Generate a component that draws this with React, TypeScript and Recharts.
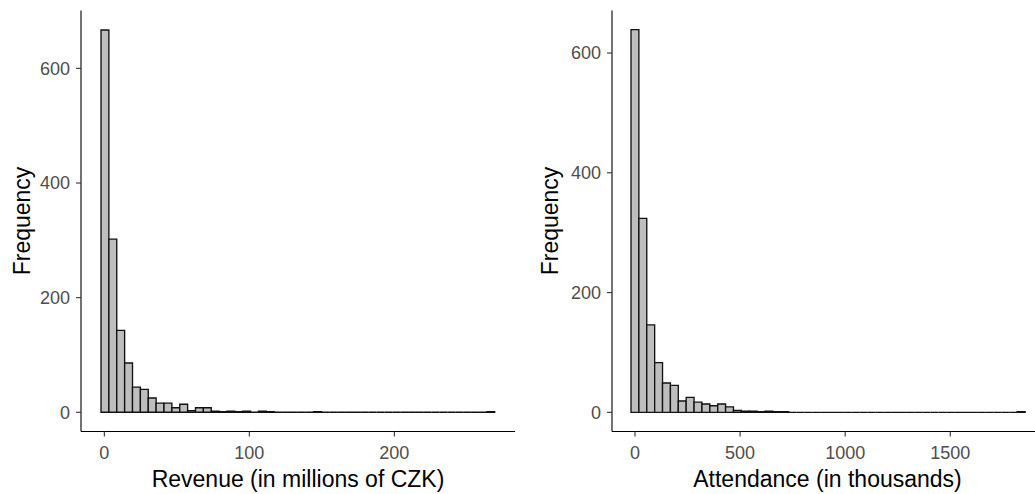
import React from 'react';
import { BarChart, Bar, XAxis, YAxis, Label } from 'recharts';

// ---- Data ----
const revenueBinStart = -2.3; // left edge of the first bin (millions CZK)
const revenueBinWidth = 5.43;
const revenueCounts = [
  667, 302, 143, 86, 44, 40, 25, 16, 16, 8,
  14, 3, 8, 8, 2, 1, 2, 1, 2, 0,
  2, 1, 0, 0, 0, 0, 0, 1, 0, 0,
  0, 0, 0, 0, 0, 0, 0, 0, 0, 0,
  0, 0, 0, 0, 0, 0, 0, 0, 0, 1,
];
const revenueTicks = [0, 100, 200];

const attendanceBinStart = -19; // thousands
const attendanceBinWidth = 37.5;
const attendanceCounts = [
  639, 324, 146, 83, 49, 45, 19, 25, 17, 14,
  11, 14, 9, 3, 2, 2, 1, 2, 1, 1,
  0, 0, 0, 0, 0, 0, 0, 0, 0, 0,
  0, 0, 0, 0, 0, 0, 0, 0, 0, 0,
  0, 0, 0, 0, 0, 0, 0, 0, 0, 1,
];
const attendanceTicks = [0, 500, 1000, 1500];

const frequencyTicks = [0, 200, 400, 600];

const buildBins = (start: number, width: number, counts: number[]) =>
  counts.map((count, i) => ({ x: start + width * (i + 0.5), count }));

const revenueData = buildBins(revenueBinStart, revenueBinWidth, revenueCounts);
const attendanceData = buildBins(attendanceBinStart, attendanceBinWidth, attendanceCounts);

const FONT = '"Liberation Sans", Arial, sans-serif';
const TICK_COLOR = '#4D4D4D';

type PanelProps = {
  data: { x: number; count: number }[];
  binWidth: number;
  xDomain: [number, number];
  yDomain: [number, number];
  xTicks: number[];
  xTitle: string;
  width: number;
  height: number;
  yAxisWidth: number;
  margin: { top: number; right: number; bottom: number; left: number };
  yTitleOffset: number;
  xTitleDx: number;
};

const Panel = (p: PanelProps) => {
  const plotW = p.width - p.margin.left - p.margin.right - p.yAxisWidth;
  const binPx = (p.binWidth * plotW) / (p.xDomain[1] - p.xDomain[0]);
  const shape = (props: any) => {
    const { x, y, height } = props;
    const top = y;
    const bottom = y + height;
    return (
      <path
        d={`M${x},${bottom}V${top}H${x + binPx}V${bottom}Z`}
        fill="#BEBEBE"
        stroke="#111111"
        strokeWidth={1.35}
      />
    );
  };
  return (
    <BarChart
      width={p.width}
      height={p.height}
      data={p.data}
      margin={p.margin}
      barCategoryGap={0}
      barGap={0}
    >
      <XAxis
        type="number"
        dataKey="x"
        domain={p.xDomain}
        ticks={p.xTicks}
        allowDataOverflow
        height={p.height - p.margin.top - p.margin.bottom - 421}
        stroke="#000000"
        strokeWidth={1.1}
        tickSize={5}
        tickMargin={9.5}
        tickLine={{ stroke: '#333333', strokeWidth: 1.1 }}
        tick={{ fill: TICK_COLOR, fontSize: 18, fontFamily: FONT }}
        interval={0}
      >
        <Label
          value={p.xTitle}
          position="insideBottom"
          offset={7.3}
          dx={p.xTitleDx}
          fill="#000000"
          fontSize={23}
          fontFamily={FONT}
        />
      </XAxis>
      <YAxis
        type="number"
        domain={p.yDomain}
        ticks={frequencyTicks}
        allowDataOverflow
        width={p.yAxisWidth}
        stroke="#000000"
        strokeWidth={1.1}
        tickSize={5}
        tickMargin={6}
        tickLine={{ stroke: '#333333', strokeWidth: 1.1 }}
        tick={{ fill: TICK_COLOR, fontSize: 18, fontFamily: FONT }}
        interval={0}
      >
        <Label
          value="Frequency"
          angle={-90}
          position="insideLeft"
          offset={p.yTitleOffset}
          style={{ textAnchor: 'middle' }}
          fill="#000000"
          fontSize={23}
          fontFamily={FONT}
        />
      </YAxis>
      <Bar dataKey="count" isAnimationActive={false} shape={shape} />
    </BarChart>
  );
};

export default function App() {
  return (
    <div
      style={{
        position: 'absolute',
        left: 0,
        top: 0,
        width: 1035,
        height: 494,
        background: '#FFFFFF',
        overflow: 'hidden',
      }}
    >
      <div style={{ position: 'absolute', left: 0, top: 0 }}>
        <Panel
          data={revenueData}
          binWidth={revenueBinWidth}
          xDomain={[-16.1, 283.2]}
          yDomain={[-33.5, 701]}
          xTicks={revenueTicks}
          xTitle="Revenue (in millions of CZK)"
          width={517}
          height={494}
          yAxisWidth={81}
          margin={{ top: 10.5, right: 2, bottom: 0, left: 0 }}
          yTitleOffset={22}
          xTitleDx={0}
        />
      </div>
      <div style={{ position: 'absolute', left: 517, top: 0 }}>
        <Panel
          data={attendanceData}
          binWidth={attendanceBinWidth}
          xDomain={[-109.4, 1903]}
          yDomain={[-32, 671]}
          xTicks={attendanceTicks}
          xTitle="Attendance (in thousands)"
          width={518}
          height={494}
          yAxisWidth={95}
          margin={{ top: 10.5, right: 0, bottom: 0, left: 0 }}
          yTitleOffset={33}
          xTitleDx={4}
        />
      </div>
    </div>
  );
}
